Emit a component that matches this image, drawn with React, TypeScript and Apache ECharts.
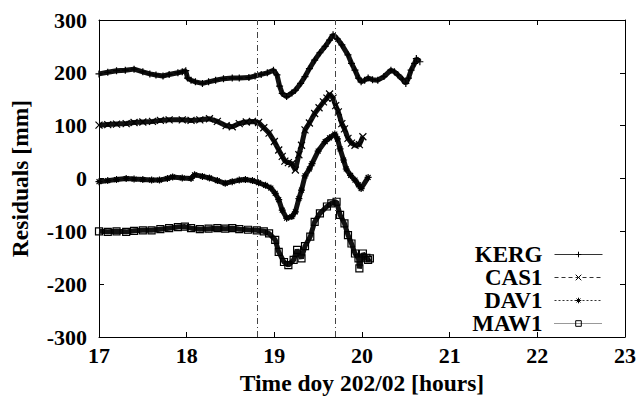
import React, { useEffect, useRef } from "react";
import * as echarts from "echarts";

const FONT = "'Liberation Serif', 'Times New Roman', serif";

const seriesNames = ["KERG", "CAS1", "DAV1", "MAW1"];

const xTicks = [17, 18, 19, 20, 21, 22, 23];
const yTicks = [-300, -200, -100, 0, 100, 200, 300];

const eventHours = [18.8, 19.7];

const kergHours = [
  17.0, 17.1, 17.2, 17.3, 17.4, 17.5, 17.58, 17.65, 17.73, 17.8, 17.9, 17.95, 17.99,
  18.01, 18.05, 18.1, 18.18, 18.25, 18.33, 18.42, 18.52, 18.6, 18.71, 18.78, 18.85,
  18.92, 18.99, 19.03, 19.06, 19.09, 19.14, 19.2, 19.24, 19.3, 19.35, 19.4, 19.46,
  19.52, 19.58, 19.63, 19.67, 19.72, 19.77, 19.84, 19.88, 19.92, 19.96, 19.99, 20.03,
  20.07, 20.12, 20.18, 20.25, 20.33, 20.37, 20.41, 20.46, 20.5, 20.53, 20.56, 20.6,
  20.62, 20.66,
];
const kergValues = [
  198, 201, 204, 205, 207, 202, 198, 196, 194, 197, 200, 202, 204,
  190, 186, 183, 180, 183, 186, 189, 190, 190, 191, 194, 197,
  200, 205, 196, 175, 161, 155, 162, 167, 180, 193, 208, 224,
  238, 250, 262, 272, 264, 253, 234, 218, 205, 190, 183, 186,
  190, 187, 186, 193, 205, 202, 196, 188, 180, 190, 205, 218,
  227, 221,
];

const cas1Hours = [
  17.0, 17.1, 17.2, 17.31, 17.4, 17.5, 17.61, 17.7, 17.8, 17.95, 18.05, 18.15, 18.26,
  18.35, 18.45, 18.52, 18.6, 18.68, 18.75, 18.82, 18.88, 18.94, 19.0, 19.05, 19.09,
  19.12, 19.16, 19.2, 19.24, 19.28, 19.31, 19.35, 19.4, 19.46, 19.51, 19.56, 19.6,
  19.63, 19.67, 19.7, 19.73, 19.77, 19.8, 19.84, 19.88, 19.92, 19.97, 20.01,
];
const cas1Values = [
  101, 102, 103, 104, 106, 107, 108, 110, 111, 111, 110, 111, 113,
  108, 100, 98, 104, 107, 108, 106, 96, 86, 70, 54, 42,
  33, 30, 28, 16, 45, 63, 92, 105, 123, 134, 145, 152,
  160, 152, 138, 126, 104, 94, 76, 67, 63, 64, 79,
];

const dav1Hours = [
  17.0, 17.1, 17.2, 17.31, 17.4, 17.5, 17.6, 17.69, 17.78, 17.84, 17.95, 18.05, 18.09,
  18.18, 18.26, 18.35, 18.44, 18.52, 18.6, 18.67, 18.75, 18.82, 18.9, 18.96, 19.01,
  19.05, 19.09, 19.14, 19.2, 19.24, 19.28, 19.31, 19.35, 19.4, 19.43, 19.5, 19.58,
  19.63, 19.69, 19.72, 19.75, 19.79, 19.82, 19.87, 19.92, 19.96, 19.99, 20.07,
];
const dav1Values = [
  -6, -4, -2, 0, -1, -2, -3, -3, 0, 3, 1, 0, 7,
  4, 1, -4, -9, -6, -3, -2, -4, -8, -13, -18, -28,
  -40, -60, -75, -72, -63, -38, -22, 5, 18, 28, 52, 70,
  77, 84, 75, 56, 35, 18, 6, -3, -12, -19, 2,
];

const maw1Hours = [
  17.0, 17.1, 17.2, 17.31, 17.4, 17.5, 17.6, 17.7, 17.8, 17.9, 17.98, 18.05, 18.15,
  18.25, 18.35, 18.44, 18.52, 18.6, 18.7, 18.8, 18.88, 18.94, 19.01, 19.05, 19.11,
  19.16, 19.22, 19.26, 19.31, 19.35, 19.41, 19.46, 19.52, 19.6, 19.65, 19.71, 19.75,
  19.8, 19.84, 19.88, 19.92, 19.96, 19.97, 20.01, 20.05, 20.07, 20.09,
];
const maw1Values = [
  -100, -101, -100, -101, -99, -98, -98, -96, -94, -92, -91, -94, -96,
  -95, -94, -95, -94, -96, -97, -98, -100, -104, -116, -139, -158,
  -164, -154, -135, -151, -128, -110, -82, -66, -53, -47, -44, -69,
  -85, -107, -123, -142, -151, -170, -142, -150, -154, -151,
];

const seriesHours = [kergHours, cas1Hours, dav1Hours, maw1Hours];
const seriesValues = [kergValues, cas1Values, dav1Values, maw1Values];

const symbols = [
  "path://M5,0L5,10M0,5L10,5",
  "path://M0,0L10,10M10,0L0,10",
  "path://M5,0L5,10M0,5L10,5M1.5,1.5L8.5,8.5M8.5,1.5L1.5,8.5",
  "rect",
];
const legendLineTypes: any[] = ["solid", [4, 3], [2, 2], [1, 1]];

export default function App() {
  const ref = useRef<HTMLDivElement>(null);
  useEffect(() => {
    const chart = echarts.init(ref.current!, null, { renderer: "svg" });
    const axisLine = { show: true, onZero: false, lineStyle: { color: "#000", width: 1 } };
    const axisTick = { show: true, inside: true, length: 5, lineStyle: { color: "#000", width: 1 } };
    const labelStyle = { color: "#000", fontFamily: FONT, fontWeight: "bold" as const, fontSize: 22 };

    const series: any[] = seriesNames.map((name, i) => ({
      name,
      type: "line",
      data: seriesHours[i].map((h, k) => [h, seriesValues[i][k]]),
      symbol: symbols[i],
      symbolSize: i === 3 ? 7 : 7,
      showSymbol: true,
      color: "#000",
      lineStyle: { color: "#111", width: 5, type: "solid" },
      itemStyle: {
        color: i === 3 ? "rgba(255,255,255,0)" : "#000",
        borderColor: "#000",
        borderWidth: 1.2,
      },
      z: 3 + i,
      markLine:
        i === 0
          ? {
              silent: true,
              symbol: ["none", "none"],
              label: { show: false },
              lineStyle: { color: "#444", type: [6, 3, 1, 3], width: 1 },
              data: eventHours.map((h) => ({ xAxis: h })),
            }
          : undefined,
    }));

    chart.setOption({
      animation: false,
      backgroundColor: "#fff",
      grid: { left: 96, right: 14, top: 20, bottom: 63 },
      xAxis: [
        {
          type: "value",
          min: xTicks[0],
          max: xTicks[xTicks.length - 1],
          interval: 1,
          position: "bottom",
          axisLine,
          axisTick,
          splitLine: { show: false },
          axisLabel: { ...labelStyle, margin: 7 },
          name: "Time doy 202/02 [hours]",
          nameLocation: "middle",
          nameGap: 32,
          nameTextStyle: { ...labelStyle, fontSize: 23.5 },
        },
        {
          type: "value",
          min: xTicks[0],
          max: xTicks[xTicks.length - 1],
          interval: 1,
          position: "top",
          axisLine,
          axisTick,
          splitLine: { show: false },
          axisLabel: { show: false },
        },
      ],
      yAxis: [
        {
          type: "value",
          min: yTicks[0],
          max: yTicks[yTicks.length - 1],
          interval: 100,
          position: "left",
          axisLine,
          axisTick,
          splitLine: { show: false },
          axisLabel: { ...labelStyle, margin: 12 },
          name: "Residuals [mm]",
          nameLocation: "middle",
          nameGap: 67,
          nameTextStyle: { ...labelStyle, fontSize: 23.5 },
        },
        {
          type: "value",
          min: yTicks[0],
          max: yTicks[yTicks.length - 1],
          interval: 100,
          position: "right",
          axisLine,
          axisTick,
          splitLine: { show: false },
          axisLabel: { show: false },
        },
      ],
      legend: {
        orient: "vertical",
        right: 36,
        top: 243,
        align: "right",
        padding: 0,
        itemWidth: 48,
        itemHeight: 7,
        itemGap: 0,
        textStyle: {
          color: "#000",
          fontFamily: FONT,
          fontWeight: "bold",
          fontSize: 23,
          lineHeight: 22,
          padding: [0, 7, 0, 0],
        },
        data: seriesNames.map((name, i) => ({
          name,
          lineStyle: { width: 1, type: legendLineTypes[i], color: "#333" },
          itemStyle: { borderWidth: 1 },
        })),
      },
      series,
    });
    return () => chart.dispose();
  }, []);
  return (
    <div
      ref={ref}
      style={{ position: "fixed", left: 0, top: 0, width: 639, height: 400, background: "#fff" }}
    />
  );
}
